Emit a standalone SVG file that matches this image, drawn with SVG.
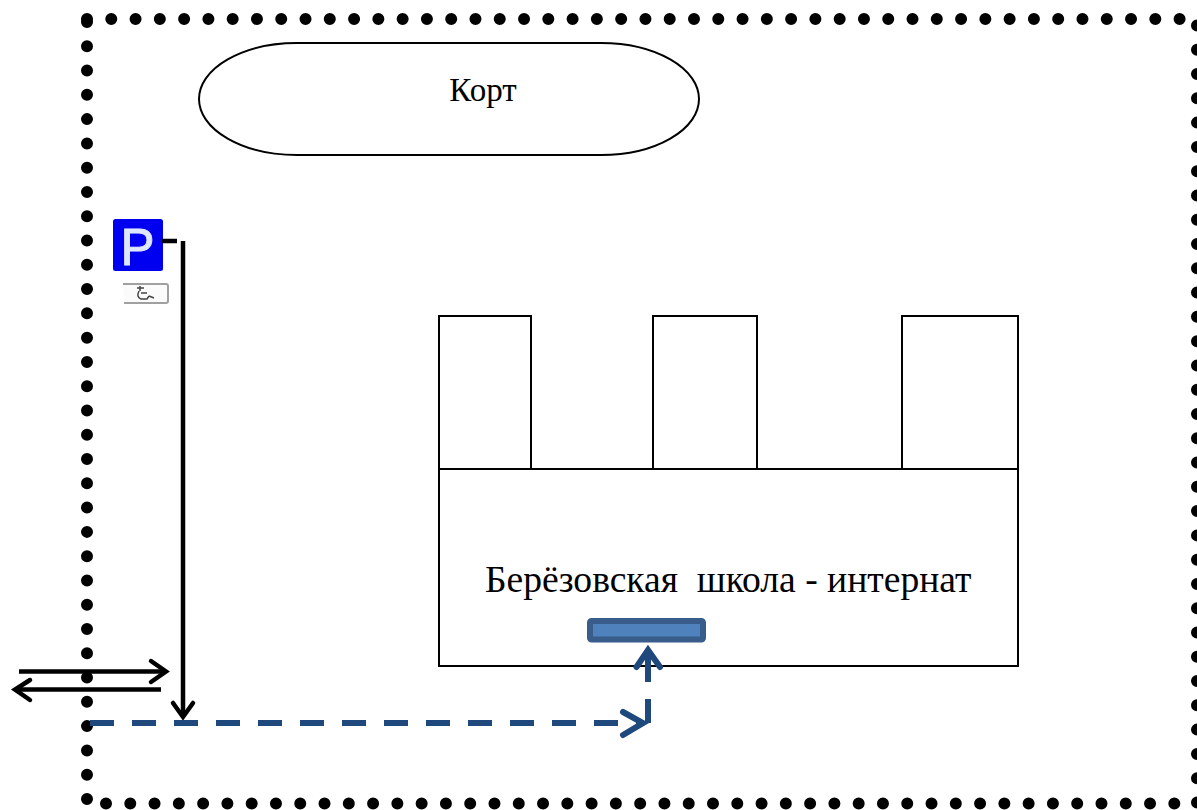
<svg xmlns="http://www.w3.org/2000/svg" width="1197" height="810" viewBox="0 0 1197 810">
<style>
.dots{fill:none;stroke:#000;stroke-width:12;stroke-linecap:round;stroke-dasharray:0 24.28}
.out{fill:#fff;stroke:#000;stroke-width:2}
.label{font-family:"Liberation Serif","Times New Roman",serif;fill:#000}
.blk{fill:none;stroke:#000;stroke-width:4.500}
.blu{fill:none;stroke:#1f497d;stroke-width:6}
.head{stroke-linecap:round;stroke-linejoin:miter}
</style>
<rect width="1197" height="810" fill="#fff"/>
<g id="fence">
<path class="dots" d="M87 19H1190"/>
<path class="dots" d="M87 22V800"/>
<path class="dots" d="M106 803.500H1180"/>
<path class="dots" d="M1197 25.500V805"/>
</g>
<g id="court">
<path class="out" d="M297 43H601A98 56 0 0 1 601 155H297A98 56 0 0 1 297 43Z"/>
<text class="label" x="483" y="101" font-size="33" text-anchor="middle">Корт</text>
</g>
<g id="school">
<rect class="out" x="439" y="316" width="92" height="153"/>
<rect class="out" x="653" y="316" width="104" height="153"/>
<rect class="out" x="902" y="316" width="116" height="153"/>
<rect class="out" x="439" y="469" width="579" height="197"/>
<text class="label" x="485" y="591.500" font-size="37.600" xml:space="preserve">Берёзовская  школа - интернат</text>
</g>
<g id="entrance">
<rect x="590" y="621" width="113" height="18.500" rx="1.500" fill="#4f81bd" stroke="#385d8a" stroke-width="6"/>
</g>
<g id="parking">
<rect x="113" y="219" width="50" height="52" rx="2.500" fill="#0000f0"/>
<text x="120.500" y="264.500" font-family="Liberation Sans,Arial,sans-serif" font-size="51" fill="#dfe6ff" stroke="#dfe6ff" stroke-width="1">P</text>
</g>
<g id="disabled-sign">
<path d="M123 284H166Q168 284 168 286V301Q168 303 166 303H124" fill="#fbfbfb" stroke="#a0a0a0" stroke-width="2"/>
<path d="M140 286V291M137 288H144M139 291Q136 297 141 299H147L149 296M149 296L154 298M141 293H147" fill="none" stroke="#444" stroke-width="1.500"/>
</g>
<g id="connectors">
<path class="blk" d="M162 241H177"/>
<path class="blk" d="M183 241V716"/>
<path class="blk head" d="M173 703L183 717L193 703"/>
<path class="blk" d="M19 671.500H166"/>
<path class="blk head" d="M151 661L166 671.500L151 682"/>
<path class="blk" d="M161 689.500H16"/>
<path class="blk head" d="M30 680L15 689.500L30 700"/>
<path class="blu" d="M90 723H640" stroke-dasharray="24 18"/>
<path class="blu head" d="M623 712L643 723L623 735"/>
<path class="blu" d="M648 723V699M648 682V652"/>
<path class="blu head" d="M636.500 667L648 650L660 667"/>
</g>
</svg>
